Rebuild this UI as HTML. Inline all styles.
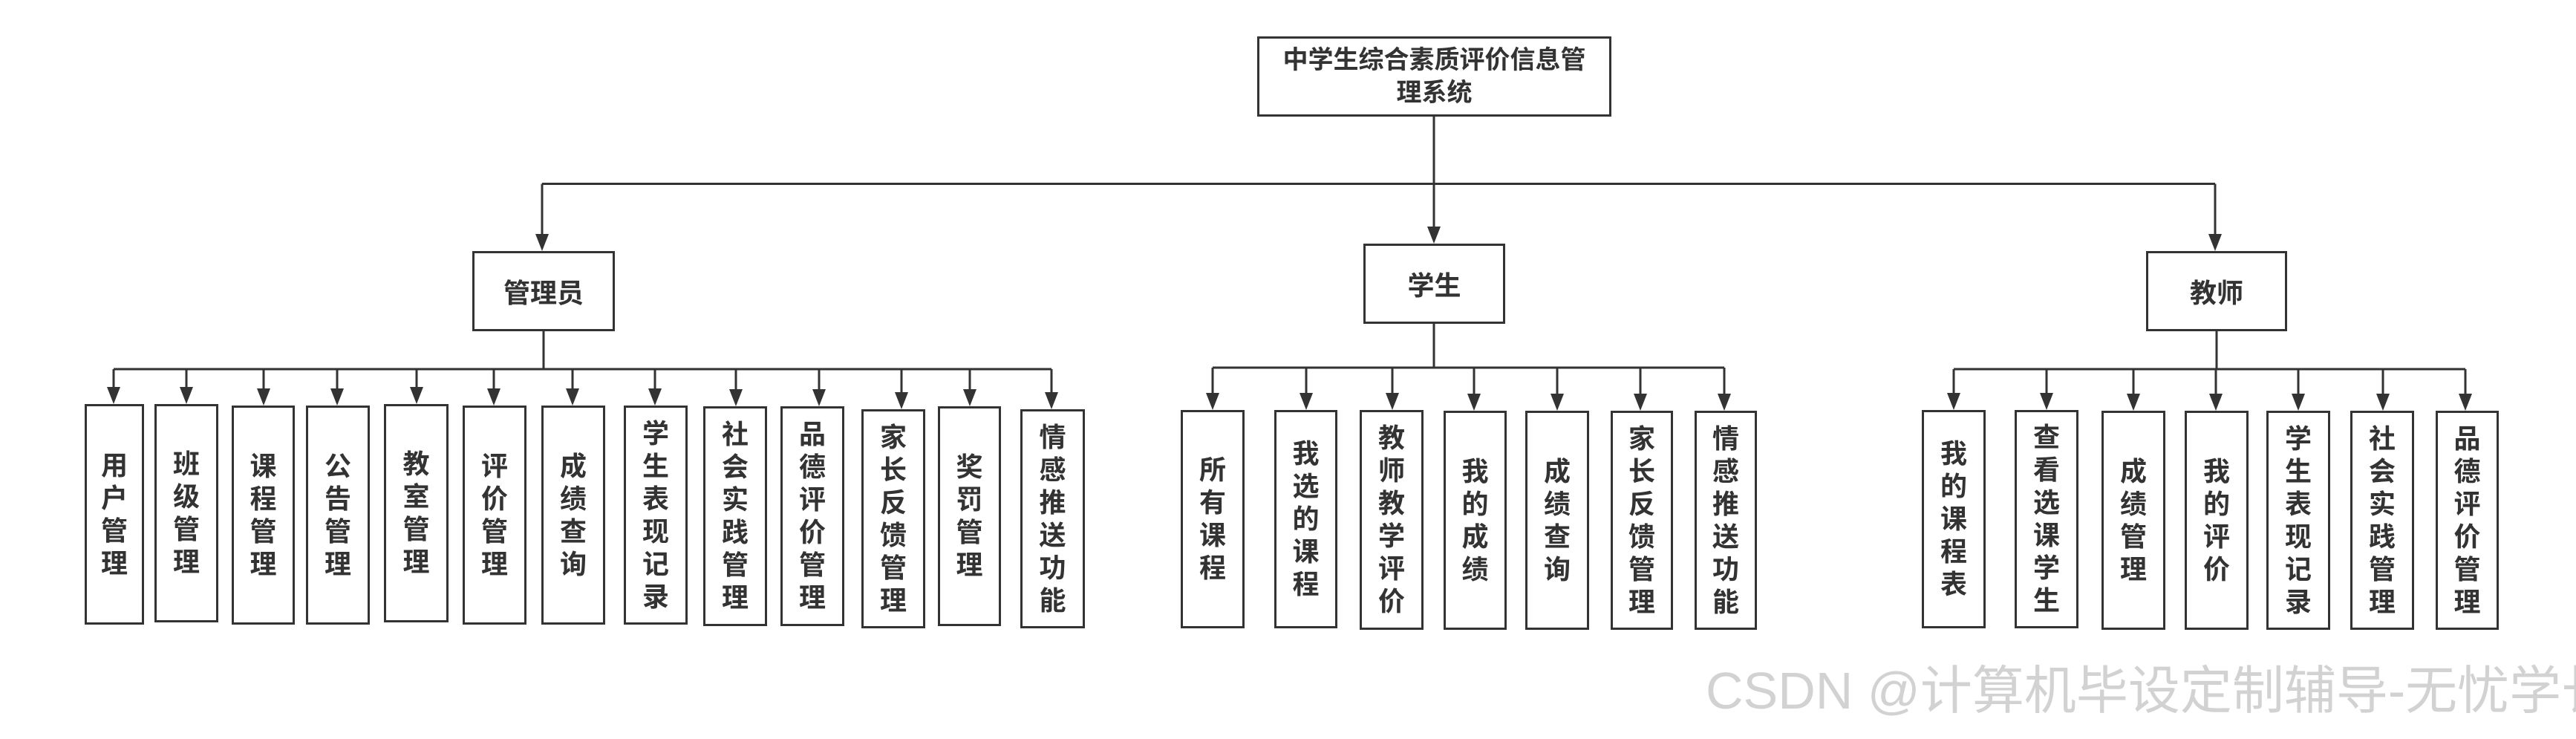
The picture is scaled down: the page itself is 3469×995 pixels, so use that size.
<!DOCTYPE html>
<html><head><meta charset="utf-8"><style>
html,body{margin:0;padding:0;background:#fff;}
body{width:3469px;height:995px;position:relative;overflow:hidden;font-family:"Liberation Sans","Noto Sans CJK SC",sans-serif;}
.b{position:absolute;box-sizing:border-box;border:3px solid #333;background:#fff;display:flex;align-items:center;justify-content:center;color:#333;font-weight:bold;}
.v{font-size:36px;line-height:44px;text-align:center;width:40px;}
.h{font-size:36px;}
svg{position:absolute;left:0;top:0;}
.wm{position:absolute;left:2297px;top:885px;font-size:70px;color:#d2d2d2;white-space:nowrap;line-height:90px;}
</style></head><body>
<svg width="3469" height="995" id="s"></svg>
<div class="b" style="left:1693px;top:49px;width:477px;height:108px;"><div style="font-size:34px;line-height:44px;text-align:center;width:440px;">中学生综合素质评价信息管理系统</div></div>
<div class="b h" style="left:636px;top:338px;width:192px;height:108px;">管理员</div>
<div class="b h" style="left:1836px;top:328px;width:191px;height:108px;">学生</div>
<div class="b h" style="left:2890px;top:338px;width:190px;height:108px;">教师</div>
<div id="kids"></div>
<div class="wm">CSDN @计算机毕设定制辅导-无忧学长</div>
<script>
var s=document.getElementById('s'),K=document.getElementById('kids'),svg='';
function L(x1,y1,x2,y2){svg+='<line x1="'+x1+'" y1="'+y1+'" x2="'+x2+'" y2="'+y2+'" stroke="#333" stroke-width="3"/>';}
function A(x,y1,y2){L(x,y1,x,y2-20);svg+='<polygon points="'+(x-9)+','+(y2-23)+' '+(x+9)+','+(y2-23)+' '+x+','+y2+'" fill="#333"/>';}
L(1931,157,1931,247.5);L(730,247.5,2983,247.5);
A(730,247.5,338);A(1931,157,328);A(2983,247.5,338);
function grp(px,py,by,items){
 L(px,py,px,by);
 var xs=items.map(function(i){return i[0]});
 L(Math.min.apply(0,xs),by,Math.max.apply(0,xs),by);
 items.forEach(function(i){A(i[0],by,i[3]);
  var d=document.createElement('div');d.className='b';
  d.style.cssText='left:'+i[1]+'px;top:'+i[3]+'px;width:'+(i[2]-i[1])+'px;height:'+(i[4]-i[3])+'px;';
  d.innerHTML='<div class="v">'+i[5].split('').join('<br>')+'</div>';K.appendChild(d);});
}
grp(732,446,497,[
[153,114,194,544,841,'用户管理'],[251,208,294,544,838,'班级管理'],[355,312,397,546,841,'课程管理'],
[454,412,498,546,841,'公告管理'],[561,517,604,544,838,'教室管理'],[665,623,709,546,841,'评价管理'],
[771,729,815,546,841,'成绩查询'],[882,840,926,546,841,'学生表现记录'],[991,947,1033,547,843,'社会实践管理'],
[1103,1051,1137,547,843,'品德评价管理'],[1214,1160,1246,551,846,'家长反馈管理'],[1306,1263,1348,547,843,'奖罚管理'],
[1416,1374,1461,551,846,'情感推送功能']]);
grp(1931,436,495,[
[1633,1590,1676,552,846,'所有课程'],[1759,1716,1801,552,846,'我选的课程'],[1875,1831,1917,552,848,'教师教学评价'],
[1985,1944,2029,553,848,'我的成绩'],[2097,2054,2140,553,848,'成绩查询'],[2209,2169,2253,553,848,'家长反馈管理'],
[2322,2282,2366,553,848,'情感推送功能']]);
grp(2985,446,497,[
[2631,2588,2674,552,846,'我的课程表'],[2756,2713,2799,552,846,'查看选课学生'],[2873,2830,2916,553,848,'成绩管理'],
[2984,2942,3028,553,848,'我的评价'],[3095,3052,3138,553,848,'学生表现记录'],[3209,3165,3251,553,848,'社会实践管理'],
[3320,3280,3365,553,848,'品德评价管理']]);
s.innerHTML=svg;
</script>
</body></html>
